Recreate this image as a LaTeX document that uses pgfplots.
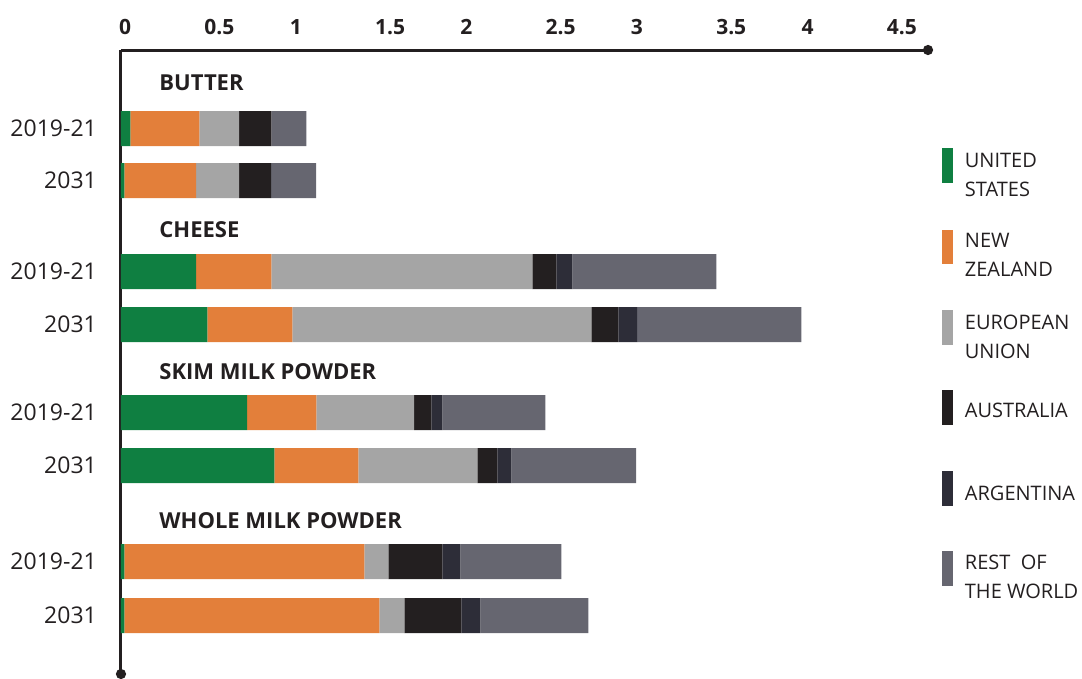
\documentclass[border=0pt]{standalone}
\usepackage{pgfplots}
\pgfplotsset{compat=1.18}
\usepackage{pgfplotstable}
\usepackage{fontspec}
\setmainfont{Open Sans}
\usetikzlibrary{arrows.meta}
\definecolor{cUS}{HTML}{0F7F41}
\definecolor{cNZ}{HTML}{E37F3A}
\definecolor{cEU}{HTML}{A5A5A5}
\definecolor{cAU}{HTML}{231F20}
\definecolor{cAR}{HTML}{2D2D38}
\definecolor{cRW}{HTML}{666670}
\definecolor{txt}{HTML}{231F20}

% pos = vertical position of each bar (row), values in million tonnes
\pgfplotstableread{
pos   us    nz    eu    au    ar    rw
128.5 0.055 0.404 0.234 0.188 0.000 0.205
180.5 0.020 0.420 0.252 0.188 0.000 0.264
271.5 0.441 0.440 1.530 0.141 0.094 0.844
324.5 0.506 0.498 1.753 0.158 0.111 0.962
412.5 0.740 0.405 0.574 0.101 0.064 0.604
465.5 0.899 0.492 0.698 0.117 0.082 0.732
561.5 0.020 1.407 0.140 0.317 0.105 0.593
615.5 0.020 1.494 0.147 0.334 0.111 0.634
}\dairytable

\tikzset{
  grouptitle/.style={anchor=base west, inner sep=0pt, font=\fontsize{22}{26}\selectfont\bfseries, text=txt},
  legtext/.style={anchor=base west, inner sep=0pt, align=left, font=\fontsize{20}{29}\selectfont, text=txt},
}

\begin{document}
\begin{tikzpicture}
\begin{axis}[
  scale only axis, width=812pt, height=629pt,
  xbar stacked, bar width=35,
  xmin=0, xmax=4.76, ymin=50, ymax=679, y dir=reverse,
  clip=false,
  axis x line=top, axis y line=left,
  axis line style={line width=3pt, color=txt, -{Circle[length=10pt]}},
  major tick length=0,
  xtick={0,0.5,1,1.5,2,2.5,3,3.5,4,4.5},
  xticklabels={0,0.5,1,1.5,2,2.5,3,3.5,4,4.5},
  xticklabel style={font=\fontsize{21}{25}\selectfont\bfseries, text=txt, anchor=base west, inner sep=0pt, xshift=-2pt, yshift=15.5pt},
  ytick={128.5,180.5,271.5,324.5,412.5,465.5,561.5,615.5},
  yticklabels={2019-21,2031,2019-21,2031,2019-21,2031,2019-21,2031},
  yticklabel style={font=\fontsize{23}{27}\selectfont, text=txt, anchor=east, inner sep=0pt, xshift=-24pt},
]
\addplot[fill=cUS, draw=none] table[x=us, y=pos] {\dairytable};
\addplot[fill=cNZ, draw=none] table[x=nz, y=pos] {\dairytable};
\addplot[fill=cEU, draw=none] table[x=eu, y=pos] {\dairytable};
\addplot[fill=cAU, draw=none] table[x=au, y=pos] {\dairytable};
\addplot[fill=cAR, draw=none] table[x=ar, y=pos] {\dairytable};
\addplot[fill=cRW, draw=none] table[x=rw, y=pos] {\dairytable};

\node[grouptitle] at (axis cs:0.224,90) {BUTTER};
\node[grouptitle] at (axis cs:0.224,237) {CHEESE};
\node[grouptitle] at (axis cs:0.224,379) {SKIM MILK POWDER};
\node[grouptitle] at (axis cs:0.224,528) {WHOLE MILK POWDER};

\fill[cUS] (axis cs:4.812,148) rectangle (axis cs:4.877,183);
\fill[cNZ] (axis cs:4.812,230) rectangle (axis cs:4.877,264);
\fill[cEU] (axis cs:4.812,310) rectangle (axis cs:4.877,345);
\fill[cAU] (axis cs:4.812,390) rectangle (axis cs:4.877,425);
\fill[cAR] (axis cs:4.812,471) rectangle (axis cs:4.877,506);
\fill[cRW] (axis cs:4.812,551) rectangle (axis cs:4.877,586);
\node[legtext] at (axis cs:4.946,196) {UNITED\\STATES};
\node[legtext] at (axis cs:4.946,276) {NEW\\ZEALAND};
\node[legtext] at (axis cs:4.946,358) {EUROPEAN\\UNION};
\node[legtext] at (axis cs:4.946,417) {AUSTRALIA};
\node[legtext] at (axis cs:4.946,500) {ARGENTINA};
\node[legtext] at (axis cs:4.946,598) {REST\ \ OF\\THE WORLD};
\end{axis}
\pgfresetboundingbox
\useasboundingbox (-121pt,1pt) rectangle (961pt,679pt);
\end{tikzpicture}
\end{document}
